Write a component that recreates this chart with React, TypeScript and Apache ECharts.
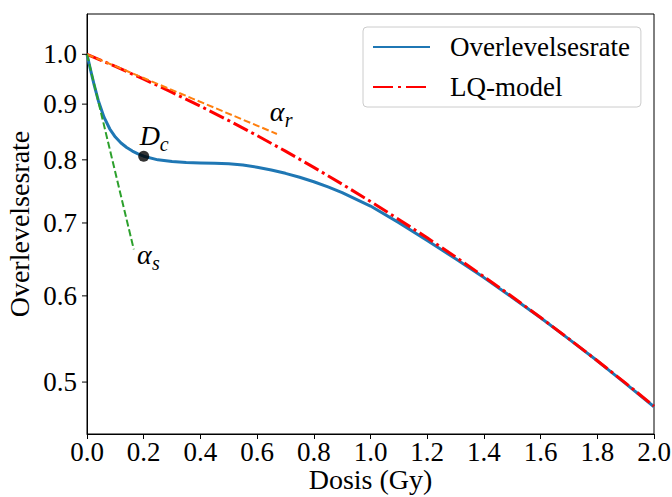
import React, { useEffect, useRef } from 'react';
import * as echarts from 'echarts';

// Surviving fraction vs. dose (Gy), induced-repair curve
const doses = [0, 0.0125, 0.025, 0.04, 0.06, 0.08, 0.1, 0.12, 0.14, 0.16, 0.18, 0.2, 0.25, 0.3, 0.35, 0.4, 0.45, 0.5, 0.55, 0.6, 0.65, 0.7, 0.75, 0.8, 0.85, 0.9, 1.0, 1.1, 1.2, 1.3, 1.4, 1.5, 1.6, 1.7, 1.8, 1.9, 2.0];
const survival = [1.0, 0.9675, 0.938, 0.9066, 0.8755, 0.8543, 0.8395, 0.829, 0.8212, 0.815, 0.8102, 0.8062, 0.8, 0.797, 0.7955, 0.7948, 0.7944, 0.7934, 0.7912, 0.7875, 0.783, 0.7775, 0.771, 0.7638, 0.7555, 0.7465, 0.7255, 0.7005, 0.6745, 0.649, 0.6236, 0.5979, 0.5728, 0.5475, 0.523, 0.4984, 0.4746];

// Linear-quadratic model
const lqDoses = [0, 0.1, 0.2, 0.3, 0.4, 0.5, 0.6, 0.7, 0.8, 0.9, 1.0, 1.1, 1.2, 1.3, 1.4, 1.5, 1.6, 1.7, 1.8, 1.9, 2.0];
const lqSurvival = [1.0, 0.9747, 0.9489, 0.9227, 0.8961, 0.8693, 0.8421, 0.8148, 0.7874, 0.7599, 0.7326, 0.7053, 0.6783, 0.6515, 0.625, 0.5989, 0.5731, 0.5478, 0.5231, 0.4989, 0.4752];

// Initial slopes (resistant / sensitive)
const alphaRLine: [number, number][] = [[0, 1.0], [0.67, 0.845]];
const alphaSLine: [number, number][] = [[0, 1.0], [0.165, 0.662]];

// Transition dose marker
const dcPoint: [number, number] = [0.2, 0.8062];

// Text annotations: [dose, survival, main symbol, subscript]
const annotations: [number, number, string, string][] = [
  [0.645, 0.887, 'α', 'r'],
  [0.186, 0.843, 'D', 'c'],
  [0.176, 0.655, 'α', 's'],
];

const yTicks = [0.5, 0.6, 0.7, 0.8, 0.9, 1.0];

const SERIF = '"Liberation Serif", "Times New Roman", serif';

export default function App() {
  const ref = useRef<HTMLDivElement>(null);

  useEffect(() => {
    if (!ref.current) return;
    const chart = echarts.init(ref.current, undefined, { renderer: 'svg' });

    const pair = (xs: number[], ys: number[]) => xs.map((x, i) => [x, ys[i]]);

    const option: any = {
      animation: false,
      backgroundColor: '#ffffff',
      grid: {
        left: 87,
        right: 18,
        top: 14,
        bottom: 63,
        containLabel: false,
        outerBoundsMode: 'none',
        show: true,
        borderColor: '#000',
        borderWidth: 1,
      },
      legend: {
        orient: 'vertical',
        left: 363,
        top: 27,
        data: [
          { name: 'Overlevelsesrate' },
          { name: 'LQ-model', lineStyle: { type: [20, 5, 3, 5] } },
        ],
        itemWidth: 57,
        itemHeight: 2,
        itemGap: 12,
        padding: [6, 11, 6, 9],
        backgroundColor: 'rgba(255,255,255,0.8)',
        borderColor: '#cccccc',
        borderWidth: 1,
        borderRadius: 4,
        itemStyle: { opacity: 0 },
        textStyle: {
          fontFamily: SERIF,
          fontSize: 27,
          color: '#000',
          lineHeight: 28,
          padding: [0, 0, 0, 15],
        },
      },
      xAxis: {
        type: 'value',
        min: 0,
        max: 2,
        interval: 0.2,
        name: 'Dosis (Gy)',
        nameLocation: 'middle',
        nameGap: 33,
        nameMoveOverlap: false,
        nameTextStyle: { fontFamily: SERIF, fontSize: 28, lineHeight: 24, color: '#000' },
        axisLine: { show: true, lineStyle: { color: '#000', width: 1 } },
        axisTick: { show: true, inside: false, length: 5, lineStyle: { color: '#000' } },
        axisLabel: {
          show: true,
          margin: 6,
          fontFamily: SERIF,
          fontSize: 27,
          lineHeight: 24,
          color: '#000',
          formatter: (v: number) => v.toFixed(1),
        },
        splitLine: { show: false },
      },
      yAxis: {
        type: 'log',
        min: 0.448,
        max: 1.089,
        name: 'Overlevelsesrate',
        nameLocation: 'middle',
        nameGap: 54,
        nameMoveOverlap: false,
        nameTextStyle: { fontFamily: SERIF, fontSize: 28, color: '#000' },
        axisLine: { show: true, lineStyle: { color: '#000', width: 1 } },
        axisTick: { show: false },
        minorTick: { show: false },
        axisLabel: { show: false },
        splitLine: { show: false },
      },
      series: [
        {
          name: 'Overlevelsesrate',
          type: 'line',
          data: pair(doses, survival),
          showSymbol: false,
          symbol: 'none',
          lineStyle: { color: '#1f77b4', width: 3, join: 'round' },
          itemStyle: { color: '#1f77b4' },
          z: 2,
        },
        {
          name: 'LQ-model',
          type: 'line',
          data: pair(lqDoses, lqSurvival),
          showSymbol: false,
          symbol: 'none',
          lineStyle: { color: '#ff0000', width: 3, type: [16, 4, 3, 4], cap: 'butt' },
          itemStyle: { color: '#ff0000' },
          z: 3,
        },
        {
          name: 'alpha_r',
          type: 'line',
          data: alphaRLine,
          showSymbol: false,
          symbol: 'none',
          lineStyle: { color: '#ff7f0e', width: 2, type: [7, 3] },
          z: 4,
        },
        {
          name: 'alpha_s',
          type: 'line',
          data: alphaSLine,
          showSymbol: false,
          symbol: 'none',
          lineStyle: { color: '#2ca02c', width: 2, type: [7, 3] },
          z: 4,
        },
        {
          name: 'Dc',
          type: 'scatter',
          data: [dcPoint],
          symbol: 'circle',
          symbolSize: 11,
          itemStyle: { color: '#000' },
          z: 5,
        },
        {
          name: 'annotations',
          type: 'custom',
          data: annotations.map((a) => [a[0], a[1]]),
          silent: true,
          z: 6,
          renderItem: (params: any, api: any) => {
            const a = annotations[params.dataIndex];
            const p = api.coord([api.value(0), api.value(1)]);
            return {
              type: 'group',
              children: [
                {
                  type: 'text',
                  x: p[0],
                  y: p[1],
                  style: {
                    text: a[2],
                    font: `italic 28px ${SERIF}`,
                    fill: '#000',
                    align: 'left',
                    verticalAlign: 'middle',
                  },
                },
                {
                  type: 'text',
                  x: p[0] + (a[2] === 'D' ? 20 : 15),
                  y: p[1] + 9,
                  style: {
                    text: a[3],
                    font: `italic 20px ${SERIF}`,
                    fill: '#000',
                    align: 'left',
                    verticalAlign: 'middle',
                  },
                },
              ],
            };
          },
        },
        {
          name: 'yticks',
          type: 'custom',
          data: yTicks.map((v) => [0, v]),
          silent: true,
          z: 6,
          renderItem: (params: any, api: any) => {
            const v = api.value(1);
            const p = api.coord([0, v]);
            return {
              type: 'group',
              children: [
                {
                  type: 'line',
                  shape: { x1: p[0] - 5, y1: p[1], x2: p[0], y2: p[1] },
                  style: { stroke: '#000', lineWidth: 1 },
                },
                {
                  type: 'text',
                  x: p[0] - 10,
                  y: p[1],
                  style: {
                    text: v.toFixed(1),
                    font: `27px ${SERIF}`,
                    fill: '#000',
                    align: 'right',
                    verticalAlign: 'middle',
                  },
                },
              ],
            };
          },
        },
      ],
    };

    chart.setOption(option);
    return () => chart.dispose();
  }, []);

  return (
    <div
      ref={ref}
      style={{ position: 'fixed', left: 0, top: 0, width: 672, height: 497, background: '#fff' }}
    />
  );
}
